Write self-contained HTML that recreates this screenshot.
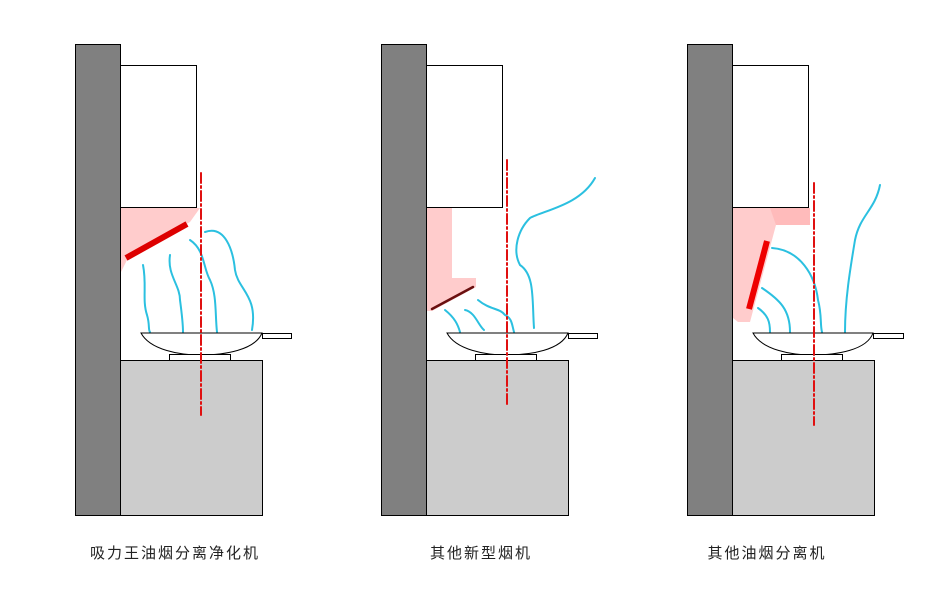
<!DOCTYPE html>
<html><head><meta charset="utf-8"><style>
body{margin:0;background:#fff;}
svg{display:block}
text{font-family:"Liberation Sans","Noto Sans CJK SC",sans-serif;font-size:15px;fill:#222;letter-spacing:2px}
</style></head><body>
<svg width="948" height="614" viewBox="0 0 948 614" xmlns="http://www.w3.org/2000/svg">
<g fill="none" stroke-linecap="round">
<!-- Panel 1 -->
<rect x="75.5" y="44.5" width="45" height="471" fill="#808080" stroke="#000"/>
<rect x="120.5" y="65.5" width="76" height="142" fill="#fff" stroke="#000"/>
<rect x="120.5" y="360.5" width="142" height="155" fill="#ccc" stroke="#000"/>
<polygon points="121,208 200,208 190,222 128,258 121,272" fill="#fcc" stroke="none"/>
<line x1="126" y1="258" x2="187" y2="224" stroke="#d00" stroke-width="6" stroke-linecap="butt"/>
<g stroke="#2bc0e0" stroke-width="2">
<path d="M143,265 C147,285 142,300 147,315 C150,325 148,330 150,332"/>
<path d="M170,255 C167,275 180,285 180,300 C182,315 183,325 183,332"/>
<path d="M190,240 C205,250 203,268 210,280 C217,295 215,315 217,332"/>
<path d="M205,232 C225,225 233,250 235,270 C238,290 258,295 252,330"/>
</g>
<path d="M141,333 C150,350 180,355 200,355 C225,355 255,350 262,333 Z" fill="#fff" stroke="#000"/>
<rect x="262.5" y="333.5" width="29" height="5" fill="#fff" stroke="#000"/>
<rect x="169.5" y="354.5" width="61" height="6" fill="#fff" stroke="#000"/>
<line x1="201" y1="173" x2="201" y2="415" stroke="#e01010" stroke-width="2" stroke-dasharray="10,3,2,3"/>

<!-- Panel 2 -->
<rect x="381.5" y="44.5" width="45" height="471" fill="#808080" stroke="#000"/>
<rect x="426.5" y="65.5" width="76" height="142" fill="#fff" stroke="#000"/>
<rect x="426.5" y="360.5" width="142" height="155" fill="#ccc" stroke="#000"/>
<rect x="427" y="208" width="25" height="71" fill="#fcc"/>
<polygon points="427,278 476,278 476,287 432,311 427,311" fill="#fcc"/>
<line x1="432" y1="309" x2="473" y2="287" stroke="#6a1010" stroke-width="2.5"/>
<g stroke="#2bc0e0" stroke-width="2">
<path d="M445,310 C455,318 458,325 460,332"/>
<path d="M465,310 C475,312 478,325 484,330"/>
<path d="M478,300 C490,310 500,308 505,315 C512,318 512,325 514,332"/>
<path d="M534,328 C532,300 535,275 520,265 C512,250 518,230 530,218 C545,210 580,205 595,178"/>
</g>
<path d="M447,333 C456,350 486,355 506,355 C531,355 561,350 568,333 Z" fill="#fff" stroke="#000"/>
<rect x="568.5" y="333.5" width="29" height="5" fill="#fff" stroke="#000"/>
<rect x="475.5" y="354.5" width="61" height="6" fill="#fff" stroke="#000"/>
<line x1="507" y1="160" x2="507" y2="405" stroke="#e01010" stroke-width="2" stroke-dasharray="10,3,2,3"/>

<!-- Panel 3 -->
<rect x="687.5" y="44.5" width="45" height="471" fill="#808080" stroke="#000"/>
<rect x="732.5" y="65.5" width="76" height="142" fill="#fff" stroke="#000"/>
<rect x="732.5" y="360.5" width="142" height="155" fill="#ccc" stroke="#000"/>
<polygon points="733,208 810,208 810,225 776,225 750,322 738,322 733,318" fill="#fcc"/>
<polygon points="770,208 810,208 810,225 776,225" fill="#fbb"/>
<line x1="767" y1="241" x2="749" y2="309" stroke="#e00" stroke-width="6" stroke-linecap="butt"/>
<g stroke="#2bc0e0" stroke-width="2">
<path d="M758,308 C768,315 770,322 770,332"/>
<path d="M762,288 C780,300 790,310 790,332"/>
<path d="M772,248 C800,250 815,275 818,300 C822,315 820,325 822,332"/>
<path d="M845,332 C845,300 850,270 855,240 C860,215 875,210 880,185"/>
</g>
<path d="M753,333 C762,350 792,355 812,355 C837,355 867,350 873,333 Z" fill="#fff" stroke="#000"/>
<rect x="873.5" y="333.5" width="30" height="5" fill="#fff" stroke="#000"/>
<rect x="781.5" y="354.5" width="61" height="6" fill="#fff" stroke="#000"/>
<line x1="814" y1="183" x2="814" y2="425" stroke="#e01010" stroke-width="2" stroke-dasharray="10,3,2,3"/>
</g>
<text x="175" y="558" text-anchor="middle">吸力王油烟分离净化机</text>
<text x="481" y="558" text-anchor="middle">其他新型烟机</text>
<text x="767" y="558" text-anchor="middle">其他油烟分离机</text>
</svg>
</body></html>
